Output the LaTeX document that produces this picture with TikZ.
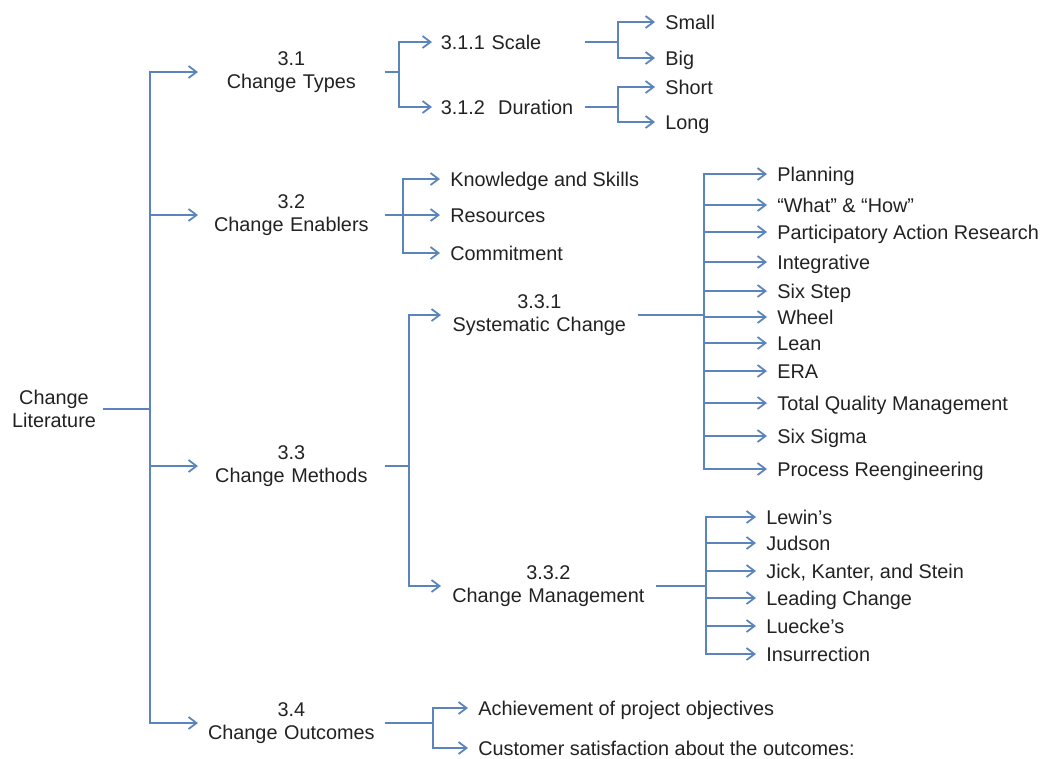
\documentclass[tikz,border=0pt]{standalone}
\usepackage{fontspec}
\setmainfont{Liberation Sans}
\usepackage{tikz}
\usetikzlibrary{arrows.meta}
\definecolor{steel}{HTML}{5B84BC}
\definecolor{ink}{HTML}{222222}

\begin{document}
\begin{tikzpicture}[
  x=0.02cm,y=-0.02cm,
  font=\fontsize{11.3pt}{13.1pt}\selectfont,text=ink,
  sec/.style={anchor=west,align=center,text width=3.72cm,inner sep=0pt},
  sub/.style={anchor=west,align=center,inner sep=0pt},
  leaf/.style={anchor=west,align=left,inner xsep=0.2cm,inner ysep=0pt,
               text height=8pt,text depth=0pt},
  ln/.style={draw=steel,line width=1pt},
  arr/.style={ln,-{Straight Barb[length=1.6mm,width=2.4mm]}}
]
\useasboundingbox (0,0) rectangle (1045,758);

% root and first level
\node[align=center,inner xsep=0.14cm] (root) at (54,409) {Change\\Literature};
\node[sec] (types)    at (198,72)  {3.1\\Change Types};
\node[sec] (enablers) at (198,215) {3.2\\Change Enablers};
\node[sec] (methods)  at (198,466) {3.3\\Change Methods};
\node[sec] (outcomes) at (198,723) {3.4\\Change Outcomes};
\coordinate (j0) at (150,409);
\draw[ln] (root.east) -- (j0);
\draw[arr] (j0) |- (types.west); \draw[arr] (j0) |- (enablers.west);
\draw[arr] (j0) |- (methods.west); \draw[arr] (j0) |- (outcomes.west);

% 3.1 change types
\node[leaf,text width=2.7cm,inner xsep=0.17cm] (scale)    at (432,42)  {3.1.1 Scale};
\node[leaf,text width=2.7cm,inner xsep=0.17cm] (duration) at (432,107) {\mbox{3.1.2\ \ Duration}};
\coordinate (j1) at (399,72);
\draw[ln] (types.east) -- (j1);
\draw[arr] (j1) |- (scale.west); \draw[arr] (j1) |- (duration.west);
\node[leaf] (small) at (655,22)  {Small};
\node[leaf] (big)   at (655,58)  {Big};
\node[leaf] (short) at (655,87)  {Short};
\node[leaf] (long)  at (655,122) {Long};
\coordinate (j11) at (618,42);
\coordinate (j12) at (618,107);
\draw[ln] (scale.east) -- (j11); \draw[ln] (duration.east) -- (j12);
\draw[arr] (j11) |- (small.west); \draw[arr] (j11) |- (big.west);
\draw[arr] (j12) |- (short.west); \draw[arr] (j12) |- (long.west);

% 3.2 change enablers
\node[leaf] (skills)    at (440,179) {Knowledge and Skills};
\node[leaf] (resources) at (440,215) {Resources};
\node[leaf] (commit)    at (440,253) {Commitment};
\coordinate (j2) at (403,215);
\draw[ln] (enablers.east) -- (j2);
\draw[arr] (j2) |- (skills.west); \draw[arr] (j2) -- (resources.west);
\draw[arr] (j2) |- (commit.west);

% 3.3 change methods
\node[sub,text width=3.92cm] (system) at (441,315) {3.3.1\\Systematic Change};
\node[sub,text width=4.28cm] (manage) at (441,586) {3.3.2\\Change Management};
\coordinate (j3) at (409,466);
\draw[ln] (methods.east) -- (j3);
\draw[arr] (j3) |- (system.west); \draw[arr] (j3) |- (manage.west);

\node[leaf] (plan)   at (767,174) {Planning};
\node[leaf] (what)   at (767,205) {``What'' \& ``How''};
\node[leaf] (par)    at (767,232) {Participatory Action Research};
\node[leaf] (integr) at (767,262) {Integrative};
\node[leaf] (sixst)  at (767,291) {Six Step};
\node[leaf] (wheel)  at (767,317) {Wheel};
\node[leaf] (lean)   at (767,343) {Lean};
\node[leaf] (era)    at (767,371) {ERA};
\node[leaf] (tqm)    at (767,403) {Total Quality Management};
\node[leaf] (sigma)  at (767,436) {Six Sigma};
\node[leaf] (reeng)  at (767,469) {Process Reengineering};
\coordinate (j31) at (704,315);
\draw[ln] (system.east) -- (j31);
\draw[arr] (j31) |- (plan.west);   \draw[arr] (j31) |- (what.west);
\draw[arr] (j31) |- (par.west);    \draw[arr] (j31) |- (integr.west);
\draw[arr] (j31) |- (sixst.west);  \draw[arr] (j31) |- (wheel.west);
\draw[arr] (j31) |- (lean.west);   \draw[arr] (j31) |- (era.west);
\draw[arr] (j31) |- (tqm.west);    \draw[arr] (j31) |- (sigma.west);
\draw[arr] (j31) |- (reeng.west);

\node[leaf] (lewin)  at (756,517) {Lewin’s};
\node[leaf] (judson) at (756,543) {Judson};
\node[leaf] (jick)   at (756,571) {Jick, Kanter, and Stein};
\node[leaf] (lead)   at (756,598) {Leading Change};
\node[leaf] (luecke) at (756,626) {Luecke’s};
\node[leaf] (insurr) at (756,654) {Insurrection};
\coordinate (j32) at (706,586);
\draw[ln] (manage.east) -- (j32);
\draw[arr] (j32) |- (lewin.west);  \draw[arr] (j32) |- (judson.west);
\draw[arr] (j32) |- (jick.west);   \draw[arr] (j32) |- (lead.west);
\draw[arr] (j32) |- (luecke.west); \draw[arr] (j32) |- (insurr.west);

% 3.4 change outcomes
\node[leaf] (achieve) at (468,708) {Achievement of project objectives};
\node[leaf] (satisf)  at (468,748) {Customer satisfaction about the outcomes:};
\coordinate (j4) at (433,723);
\draw[ln] (outcomes.east) -- (j4);
\draw[arr] (j4) |- (achieve.west); \draw[arr] (j4) |- (satisf.west);
\end{tikzpicture}
\end{document}
